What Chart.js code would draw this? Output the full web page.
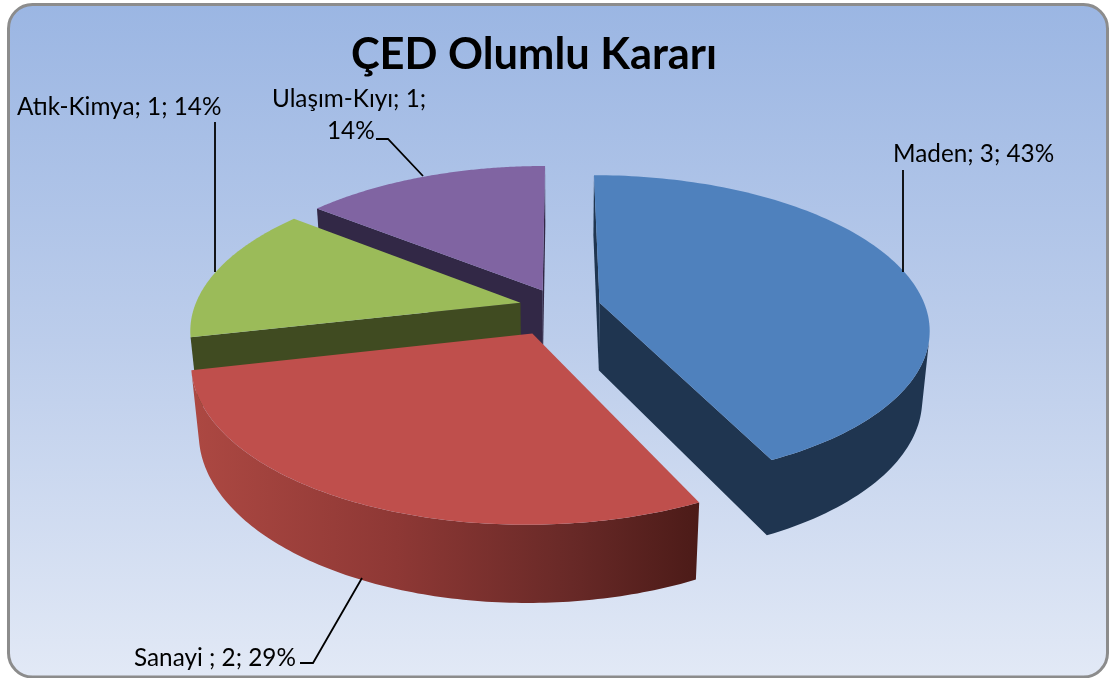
<!DOCTYPE html>
<html><head><meta charset="utf-8">
<script src="https://cdn.jsdelivr.net/npm/chart.js@4/dist/chart.umd.min.js"></script>
<style>html,body{margin:0;padding:0;background:#fff}canvas{display:block}</style>
</head><body>
<div style="width:1110px;height:678px"><canvas id="c" width="1110" height="678"></canvas></div>
<script>
const chartTitle = 'ÇED Olumlu Kararı';
const categories = ['Maden', 'Sanayi ', 'Atık-Kimya', 'Ulaşım-Kıyı'];
const values = [3, 2, 1, 1];
const explodePct = [12.5, 19, 12.5, 12.5];
const topColors = ['#4F81BD', '#BF4F4C', '#9BBB59', '#8064A2'];
const wallColors = ['#1F3550', null, '#404B21', '#322846'];
const paintOrder = [3, 2, 0, 1];
const labelLayouts = [
  {x:893, y:154, leader:[[903,170],[903,272]]},
  {x:134, y:658, leader:[[300,663],[313,663],[362,578]]},
  {x:17, y:107, leader:[[215,122],[215,272]]},
  {wrapAfter:2, x:272, y:99, x2:327, y2:131, leader:[[376,139],[388,139],[423,176]]}
];
const view = {cx:560, cy:307, rx:326, ry:150, a:0.165, b:0.02, d:69};
const project = (u, v, h) => {
  const w = 1 - view.a * v + view.b * h;
  return [view.cx + view.rx * u / w, view.cy + view.ry * v / w + view.d * h / w];
};
const pie3d = {
  id: 'pie3d',
  beforeDraw(chart) {
    const ctx = chart.ctx;
    const x = 8.5, y = 4.5, w = 1099, h = 672.5, r = 24;
    const g = ctx.createLinearGradient(0, y, 0, y + h);
    g.addColorStop(0, '#9BB6E3'); g.addColorStop(0.5, '#BCCDEB'); g.addColorStop(1, '#E2E9F6');
    ctx.save();
    ctx.beginPath(); ctx.roundRect(x, y, w, h, r);
    ctx.fillStyle = g; ctx.fill();
    ctx.lineWidth = 3; ctx.strokeStyle = '#8C8C8C'; ctx.stroke();
    ctx.restore();
  },
  beforeDatasetsDraw(chart) {
    const ctx = chart.ctx;
    const arcs = chart.getDatasetMeta(0).data;
    const wallGrad = ctx.createLinearGradient(195, 0, 697, 0);
    wallGrad.addColorStop(0, '#AC4842'); wallGrad.addColorStop(0.4, '#8E3835');
    wallGrad.addColorStop(0.75, '#682927'); wallGrad.addColorStop(1, '#4C1B18');
    const visible = (a, b) => {
      const pts = [project(a[0], a[1], 0), project(b[0], b[1], 0), project(b[0], b[1], 1), project(a[0], a[1], 1)];
      let area = 0;
      for (let i = 0; i < 4; i++) { const p = pts[i], q = pts[(i + 1) % 4]; area += p[0]*q[1] - q[0]*p[1]; }
      return area < 0;
    };
    const fillRun = (run, fill) => {
      if (run.length < 2) return;
      ctx.beginPath();
      run.forEach((p, j) => { const q = project(p[0], p[1], 0); j ? ctx.lineTo(q[0], q[1]) : ctx.moveTo(q[0], q[1]); });
      for (let j = run.length - 1; j >= 0; j--) { const q = project(run[j][0], run[j][1], 1); ctx.lineTo(q[0], q[1]); }
      ctx.closePath(); ctx.fillStyle = fill; ctx.fill();
    };
    paintOrder.forEach(i => {
      const arc = arcs[i];
      const s = arc.startAngle, e = arc.endAngle, mid = (s + e) / 2;
      const k = arc.options.offset / 100;
      const ox = Math.cos(mid) * k, oy = Math.sin(mid) * k;
      const N = 120, rim = [];
      for (let j = 0; j <= N; j++) {
        const t = s + (e - s) * j / N;
        rim.push([ox + Math.cos(t), oy + Math.sin(t)]);
      }
      const outline = [[ox, oy], ...rim, [ox, oy]];
      const wall = wallColors[i] || wallGrad;
      let run = [];
      for (let j = 0; j < outline.length - 1; j++) {
        const a = outline[j], b = outline[j + 1];
        if (visible(a, b)) { if (!run.length) run.push(a); run.push(b); }
        else { fillRun(run, wall); run = []; }
      }
      fillRun(run, wall);
      ctx.beginPath();
      outline.forEach((p, j) => { const q = project(p[0], p[1], 0); j ? ctx.lineTo(q[0], q[1]) : ctx.moveTo(q[0], q[1]); });
      ctx.closePath();
      ctx.fillStyle = arc.options.backgroundColor;
      ctx.fill();
    });
    return false;
  },
  afterDraw(chart) {
    const ctx = chart.ctx;
    const total = values.reduce((a, b) => a + b, 0);
    ctx.save();
    ctx.font = '24.3px Lato';
    ctx.fillStyle = '#000';
    ctx.textBaseline = 'middle';
    ctx.textAlign = 'left';
    categories.forEach((cat, i) => {
      const L = labelLayouts[i];
      const pct = Math.round(values[i] / total * 100) + '%';
      if (L.wrapAfter) {
        ctx.fillText(cat + '; ' + values[i] + ';', L.x, L.y);
        ctx.fillText(pct, L.x2, L.y2);
      } else {
        ctx.fillText(cat + '; ' + values[i] + '; ' + pct, L.x, L.y);
      }
      ctx.beginPath();
      L.leader.forEach((p, j) => j ? ctx.lineTo(p[0], p[1]) : ctx.moveTo(p[0], p[1]));
      ctx.strokeStyle = '#000'; ctx.lineWidth = 1.8; ctx.stroke();
    });
    ctx.restore();
  }
};
new Chart(document.getElementById('c'), {
  type: 'pie',
  data: { labels: categories, datasets: [{ data: values, backgroundColor: topColors, offset: explodePct, borderWidth: 0 }] },
  options: {
    responsive: false, animation: false,
    layout: { padding: { top: 29, right: 42, bottom: 10, left: 0 } },
    plugins: {
      legend: { display: false }, tooltip: { enabled: false },
      title: { display: true, text: chartTitle, color: '#000', font: { family: 'Lato', size: 43.4, weight: 'bold' }, padding: { top: 0, bottom: 6 } }
    }
  },
  plugins: [pie3d]
});
</script>
</body></html>
